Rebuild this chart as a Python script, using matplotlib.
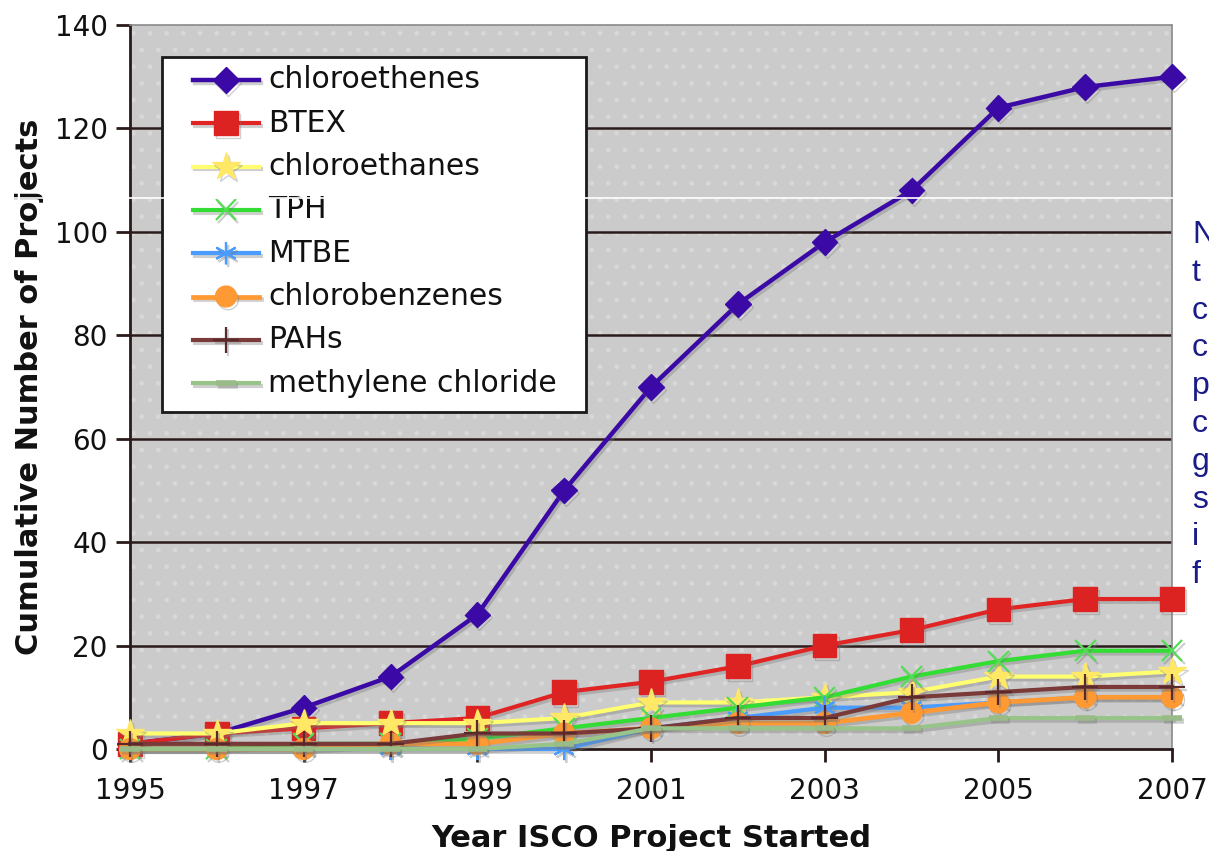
import matplotlib
matplotlib.use('Agg')
import matplotlib.pyplot as plt
import matplotlib.patheffects as pe
from matplotlib.lines import Line2D
from matplotlib.patches import Rectangle

years = list(range(1995, 2008))
chloroethenes = [1, 3, 8, 14, 26, 50, 70, 86, 98, 108, 124, 128, 130]
btex = [1, 3, 4, 5, 6, 11, 13, 16, 20, 23, 27, 29, 29]
chloroethanes = [3, 3, 5, 5, 5, 6, 9, 9, 10, 11, 14, 14, 15]
tph = [0, 0, 1, 1, 2, 4, 6, 8, 10, 14, 17, 19, 19]
mtbe = [0, 0, 0, 0, 0, 0, 4, 6, 8, 8, 9, 10, 10]
chlorobenzenes = [0, 0, 0, 1, 1, 3, 4, 5, 5, 7, 9, 10, 10]
pahs = [1, 1, 1, 1, 3, 3, 4, 6, 6, 10, 11, 12, 12]
methylene_chloride = [0, 0, 0, 0, 0, 1, 4, 4, 4, 4, 6, 6, 6]

series_names = ["chloroethenes", "BTEX", "chloroethanes", "TPH", "MTBE",
                "chlorobenzenes", "PAHs", "methylene chloride"]
series_values = [chloroethenes, btex, chloroethanes, tph, mtbe,
                 chlorobenzenes, pahs, methylene_chloride]
x_ticks = [1995, 1997, 1999, 2001, 2003, 2005, 2007]
y_ticks = [0, 20, 40, 60, 80, 100, 120, 140]
side_letters = ["N", "t", "c", "c", "p", "c", "g", "s", "i", "f"]

styles = [
    dict(color='#3b0aa6', marker='D', ms=13, mfc='#3b0aa6', mec='#3b0aa6', lw=3.2),
    dict(color='#e02424', marker='s', ms=17, mfc='#dd2222', mec='#dd2222', lw=3.0),
    dict(color='#ffff70', marker='*', ms=21, mfc='#ffe866', mec='#ffe866', lw=3.0),
    dict(color='#33dd33', marker='x', ms=15, mfc='#55dd55', mec='#55dd55', mew=1.6, lw=3.0),
    dict(color='#4a9cff', marker=(6, 2, 0), ms=16, mfc='#4a9cff', mec='#4a9cff', mew=1.6, lw=3.0),
    dict(color='#ff9933', marker='o', ms=15, mfc='#ff9933', mec='#ff9933', lw=3.4),
    dict(color='#7a3a3a', marker='+', ms=19, mfc='#5a2a2a', mec='#5a2a2a', mew=1.6, lw=3.0),
    dict(color='#99c489', marker='_', ms=14, mfc='#99bb88', mec='#99bb88', mew=4, lw=3.0),
]

W, H = 1209, 851
fig = plt.figure(figsize=(W / 100, H / 100), dpi=100)
fig.patch.set_facecolor('white')
ax = fig.add_axes([130 / W, 1 - 749 / H, (1172 - 130) / W, (749 - 25) / H])
ax.set_facecolor('#cbcbcb')
ax.add_patch(Rectangle((0, 0), 1, 1, transform=ax.transAxes, facecolor='none',
                       edgecolor='#d8d8d8', hatch='.', lw=0, zorder=0))

shadow = [pe.SimpleLineShadow(offset=(1.5, -2.0), shadow_color='#777777', alpha=0.35), pe.Normal()]

for i, (name, vals, st) in enumerate(zip(series_names, series_values, styles)):
    ax.plot(years, vals, label=name, clip_on=False, zorder=3 + i,
            path_effects=shadow, **st)

ax.set_xlim(1995, 2007)
ax.set_ylim(0, 140)
ax.set_xticks(x_ticks)
ax.set_xticklabels([str(v) for v in x_ticks])
ax.set_yticks(y_ticks)
ax.set_yticklabels([str(v) for v in y_ticks])

for y in y_ticks[1:-1]:
    ax.axhline(y, color='#2a1a1a', lw=1.8, zorder=1)

for s in ['top', 'right']:
    ax.spines[s].set_color('#8a8a8a')
    ax.spines[s].set_linestyle((0, (1, 1)))
    ax.spines[s].set_linewidth(1.2)
for s in ['left', 'bottom']:
    ax.spines[s].set_color('#2a1a1a')
    ax.spines[s].set_linewidth(2.0)

ax.tick_params(axis='both', direction='out', color='#2a1a1a', width=2.0,
               labelsize=20, labelcolor='#111111')
ax.tick_params(axis='y', length=10, pad=6)
ax.tick_params(axis='x', length=9, pad=11)

ax.set_xlabel('Year ISCO Project Started', fontsize=22, fontweight='bold',
              color='#111111', labelpad=14)
ax.set_ylabel('Cumulative Number of Projects', fontsize=22, fontweight='bold',
              color='#111111', labelpad=8)

# legend (drawn by hand to match the boxed layout)
fig.add_artist(Rectangle((162 / W, 1 - 412 / H), (586 - 162) / W, (412 - 57) / H,
                         transform=fig.transFigure, facecolor='white',
                         edgecolor='#1a1a1a', lw=2.0, zorder=20))
row0, row_step = 80, 43.3
for k, (name, st) in enumerate(zip(series_names, styles)):
    yy = 1 - (row0 + k * row_step) / H
    h = Line2D([193 / W, 226 / W, 259 / W], [yy, yy, yy], transform=fig.transFigure,
               markevery=[1], zorder=21, path_effects=shadow, **st)
    fig.add_artist(h)
    fig.text(268 / W, yy, name, fontsize=21.5, color='#111111', va='center',
             ha='left', zorder=22)

base0, base_step = 243, 37.8
for k, letter in enumerate(side_letters):
    fig.text(1192 / W, 1 - (base0 + k * base_step) / H, letter, fontsize=23,
             color='#1a1c88', family='Liberation Sans', va='baseline', ha='left')

fig.add_artist(Line2D([0, 1175 / W], [1 - 198 / H, 1 - 198 / H],
                      transform=fig.transFigure, color='white', lw=1.2, zorder=50))

fig.savefig('out.png', dpi=100)
